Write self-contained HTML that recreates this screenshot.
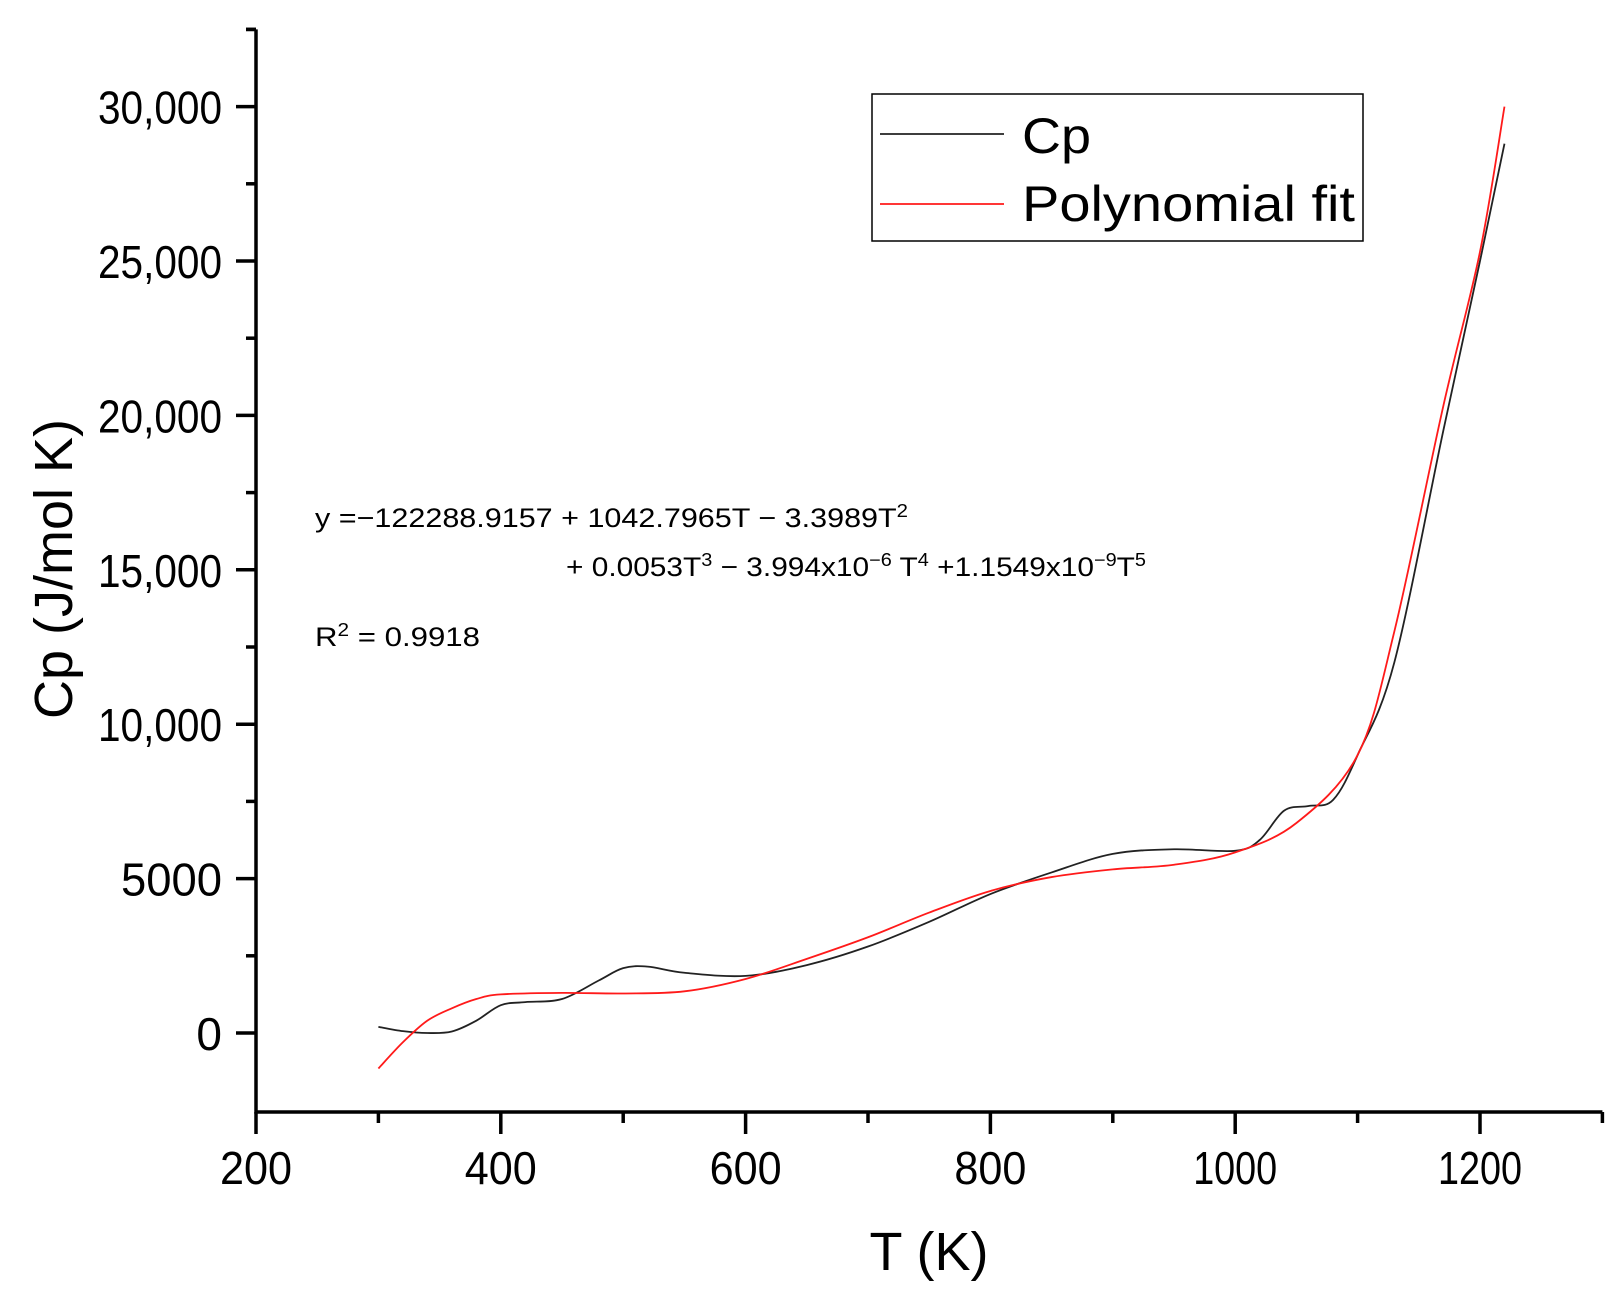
<!DOCTYPE html>
<html><head><meta charset="utf-8"><style>
html,body{margin:0;padding:0;background:#fff;}
svg{display:block;font-family:"Liberation Sans",Arial,sans-serif;}
</style></head><body>
<svg id="s" width="1622" height="1300" viewBox="0 0 1622 1300" xmlns="http://www.w3.org/2000/svg">
<g id="axes" stroke="#000" stroke-width="3.5" fill="none"></g>
<g id="labels" font-size="46" fill="#000"></g>
<text x="929" y="1270" font-size="54" text-anchor="middle">T (K)</text>
<text transform="translate(72,569) rotate(-90)" font-size="54" text-anchor="middle">Cp (J/mol K)</text>
<path id="black" stroke="#222" stroke-width="1.8" fill="none"/>
<path id="red" stroke="#ff1a1a" stroke-width="1.8" fill="none"/>
<rect x="872" y="94" width="491" height="147" fill="none" stroke="#000" stroke-width="1.5"/>
<line x1="880" y1="134" x2="1004" y2="134" stroke="#222" stroke-width="1.8"/>
<line x1="880" y1="204" x2="1004" y2="204" stroke="#ff1a1a" stroke-width="1.8"/>
<text x="1022" y="153" font-size="50" textLength="69" lengthAdjust="spacingAndGlyphs">Cp</text>
<text x="1022" y="221" font-size="50" textLength="333" lengthAdjust="spacingAndGlyphs">Polynomial fit</text>
<g font-size="27">
<text x="315" y="527" textLength="593" lengthAdjust="spacingAndGlyphs">y =−122288.9157 + 1042.7965T − 3.3989T<tspan dy="-10" font-size="18">2</tspan></text>
<text x="566" y="576" textLength="580" lengthAdjust="spacingAndGlyphs">+ 0.0053T<tspan dy="-10" font-size="18">3</tspan><tspan dy="10"> − 3.994x10</tspan><tspan dy="-10" font-size="18">−6</tspan><tspan dy="10"> T</tspan><tspan dy="-10" font-size="18">4</tspan><tspan dy="10"> +1.1549x10</tspan><tspan dy="-10" font-size="18">−9</tspan><tspan dy="10">T</tspan><tspan dy="-10" font-size="18">5</tspan></text>
<text x="315" y="646" textLength="165" lengthAdjust="spacingAndGlyphs">R<tspan dy="-10" font-size="18">2</tspan><tspan dy="10"> = 0.9918</tspan></text>
</g>
</svg>
<script>
var X=function(t){return 256+(t-200)*1.224;};
var Y=function(v){return 1033-v*0.03088;};
var ax=document.getElementById('axes'),lb=document.getElementById('labels');
var ns="http://www.w3.org/2000/svg";
function el(p,tag,a,txt){var e=document.createElementNS(ns,tag);for(var k in a)e.setAttribute(k,a[k]);if(txt!=null)e.textContent=txt;p.appendChild(e);return e;}
el(ax,'path',{d:'M'+X(200)+' '+Y(32500)+' V1112 H'+X(1300)});
el(ax,'line',{x1:X(200)-10,y1:Y(32500),x2:X(200),y2:Y(32500)});
for(var v=-2500;v<=32500;v+=2500){var y=Y(v);var major=(v%5000===0);
 if(v>-2500) el(ax,'line',{x1:X(200)-(major?20:10),y1:y,x2:X(200),y2:y});
 if(major&&v>=0){var s=v>=10000?(v/1000)+',000':String(v);
  var a={x:222,y:y+17,'text-anchor':'end'};
  if(s.length==6){a.textLength=124;a.lengthAdjust='spacingAndGlyphs';}
  else if(s.length==4){a.textLength=101;a.lengthAdjust='spacingAndGlyphs';}
  el(lb,'text',a,s);}}
for(var t=200;t<=1300;t+=100){var x=X(t);var major=(t%200===0);
 el(ax,'line',{x1:x,y1:1112,x2:x,y2:1112+(major?22:11)});
 if(major){var s=String(t);var w=s.length==4?84:72;
  el(lb,'text',{x:x-w/2,y:1184,textLength:w,lengthAdjust:'spacingAndGlyphs'},s);}}
function path(pts){var p=pts.map(function(a){return [X(a[0]),Y(a[1])];});
 var d='M'+p[0][0]+' '+p[0][1];
 for(var i=0;i<p.length-1;i++){var p0=p[i-1]||p[i],p1=p[i],p2=p[i+1],p3=p[i+2]||p2;
  var c1=[p1[0]+(p2[0]-p0[0])/6,p1[1]+(p2[1]-p0[1])/6],c2=[p2[0]-(p3[0]-p1[0])/6,p2[1]-(p3[1]-p1[1])/6];
  d+=' C'+c1+' '+c2+' '+p2;}
 return d;}
var blk=[[300,200],[320,60],[340,0],[360,50],[380,400],[400,900],[420,1000],[450,1100],[480,1700],[500,2100],[520,2150],[550,1950],[600,1850],[650,2200],[700,2800],[750,3600],[800,4500],[850,5200],[900,5800],[950,5950],[1000,5900],[1020,6250],[1040,7200],[1060,7350],[1080,7550],[1100,9000],[1130,12000],[1170,19500],[1200,25000],[1220,28800]];
var red=[[300,-1150],[320,-300],[340,400],[360,800],[380,1100],[400,1250],[450,1300],[500,1280],[550,1350],[600,1750],[650,2400],[700,3100],[750,3900],[800,4600],[850,5050],[900,5300],[950,5450],[1000,5850],[1050,6800],[1100,9000],[1130,13000],[1170,20300],[1200,25300],[1220,30000]];
document.getElementById('black').setAttribute('d',path(blk));
document.getElementById('red').setAttribute('d',path(red));
</script>
</body></html>
